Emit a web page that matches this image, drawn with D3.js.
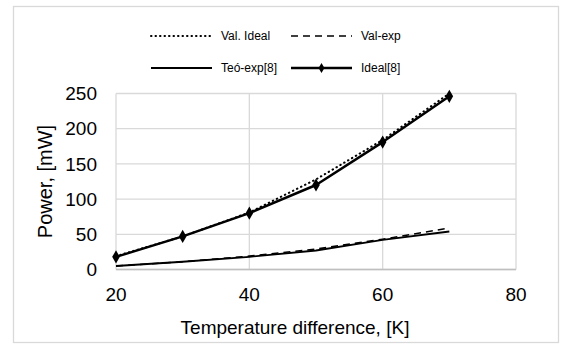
<!DOCTYPE html>
<html>
<head>
<meta charset="utf-8">
<script src="https://cdn.jsdelivr.net/npm/d3@7"></script>
<style>
  body { margin: 0; background: #fff; }
  svg text { font-family: "Liberation Sans", Arial, sans-serif; fill: #000; }
  .grid { stroke: #d9d9d9; stroke-width: 1.3; }
</style>
</head>
<body>
<svg id="chart"></svg>
<script>
// values
const tempDiff = [20, 30, 40, 50, 60, 70];
const valIdeal = [19, 47, 81, 128, 184, 250];
const valExp = [5, 11, 19, 29, 43, 59];
const teoExp = [5, 11, 18, 27, 42, 54];
const ideal8 = [18, 47, 80, 120, 181, 246];

const xTicks = [20, 40, 60, 80];
const yTicks = [0, 50, 100, 150, 200, 250];

const series = [
  { name: "Val. Ideal", values: valIdeal, width: 2, dash: "0.5 4", cap: "round" },
  { name: "Val-exp", values: valExp, width: 1.6, dash: "7 5", cap: "butt" },
  { name: "Teó-exp[8]", values: teoExp, width: 1.8, dash: null, cap: "butt" },
  { name: "Ideal[8]", values: ideal8, width: 2.5, dash: null, cap: "butt", marker: true }
];

const width = 561, height = 345;
const plot = { left: 116, right: 516, top: 93.5, bottom: 269.5 };

let svg = d3.select("#chart")
  .attr("width", width)
  .attr("height", height);

// outer chart border
svg.append("rect")
  .attr("x", 13.5).attr("y", 6.5)
  .attr("width", 545).attr("height", 336)
  .attr("fill", "#fff")
  .attr("stroke", "#d9d9d9")
  .attr("stroke-width", 1.3);

let x = d3.scaleLinear().domain([20, 80]).range([plot.left, plot.right]);
let y = d3.scaleLinear().domain([0, 250]).range([plot.bottom, plot.top]);

// grid lines
svg.append("g").selectAll("line").data(yTicks).join("line")
  .attr("class", "grid")
  .attr("x1", plot.left).attr("x2", plot.right)
  .attr("y1", d => y(d)).attr("y2", d => y(d));
svg.append("g").selectAll("line").data(xTicks).join("line")
  .attr("class", "grid")
  .attr("x1", d => x(d)).attr("x2", d => x(d))
  .attr("y1", plot.top).attr("y2", plot.bottom);

// bottom axis line is a bit darker
svg.append("line")
  .attr("x1", plot.left).attr("x2", plot.right)
  .attr("y1", plot.bottom).attr("y2", plot.bottom)
  .attr("stroke", "#bfbfbf").attr("stroke-width", 1.5);

// tick labels
svg.append("g").selectAll("text").data(yTicks).join("text")
  .attr("x", 97).attr("y", d => y(d))
  .attr("dy", "0.35em")
  .attr("text-anchor", "end")
  .attr("font-size", 19)
  .text(d => d);
svg.append("g").selectAll("text").data(xTicks).join("text")
  .attr("x", d => x(d)).attr("y", 301)
  .attr("text-anchor", "middle")
  .attr("font-size", 19)
  .text(d => d);

// axis titles
svg.append("text")
  .attr("transform", "translate(52," + ((plot.top + plot.bottom) / 2) + ") rotate(-90)")
  .attr("text-anchor", "middle")
  .attr("font-size", 20)
  .text("Power, [mW]");
svg.append("text")
  .attr("x", 295).attr("y", 334)
  .attr("text-anchor", "middle")
  .attr("font-size", 19)
  .text("Temperature difference, [K]");

let line = d3.line()
  .x((d, i) => x(tempDiff[i]))
  .y(d => y(d));

series.forEach(s => {
  svg.append("path")
    .datum(s.values)
    .attr("fill", "none")
    .attr("stroke", "#000")
    .attr("stroke-width", s.width)
    .attr("stroke-dasharray", s.dash)
    .attr("stroke-linecap", s.cap)
    .attr("stroke-linejoin", "round")
    .attr("d", line);

  if (s.marker) {
    svg.append("g").selectAll("path").data(s.values).join("path")
      .attr("transform", (d, i) => "translate(" + x(tempDiff[i]) + "," + y(d) + ")")
      .attr("d", d3.symbol(d3.symbolDiamond, 50))
      .attr("fill", "#000");
  }
});

// legend, two rows of two
let legendPos = [
  { lx: 151, ly: 36 }, { lx: 291, ly: 36 },
  { lx: 151, ly: 68 }, { lx: 291, ly: 68 }
];

series.forEach((s, i) => {
  let p = legendPos[i];
  let g = svg.append("g");
  g.append("line")
    .attr("x1", p.lx).attr("x2", p.lx + 61)
    .attr("y1", p.ly).attr("y2", p.ly)
    .attr("stroke", "#000")
    .attr("stroke-width", s.width)
    .attr("stroke-dasharray", s.dash)
    .attr("stroke-linecap", s.cap);
  if (s.marker) {
    g.append("path")
      .attr("transform", "translate(" + (p.lx + 30.5) + "," + p.ly + ")")
      .attr("d", d3.symbol(d3.symbolDiamond, 30))
      .attr("fill", "#000");
  }
  g.append("text")
    .attr("x", p.lx + 70).attr("y", p.ly)
    .attr("dy", "0.35em")
    .attr("font-size", 12)
    .text(s.name);
});
</script>
</body>
</html>
